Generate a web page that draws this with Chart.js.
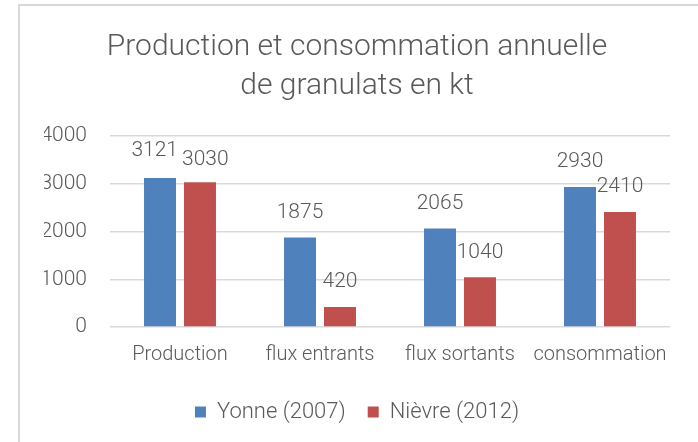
<!DOCTYPE html>
<html>
<head>
<meta charset="utf-8">
<script src="https://cdn.jsdelivr.net/npm/chart.js@4.4.0/dist/chart.umd.min.js"></script>
<style>
  html, body { margin: 0; padding: 0; background: #fff; overflow: hidden; }
  #frame { position: absolute; left: 18px; top: 4px; width: 1000px; height: 1000px;
           border-top: 2px solid #d9d9d9; border-left: 2px solid #d9d9d9; }
  #wrap { position: absolute; left: 0; top: 0; width: 698px; height: 442px; }
</style>
</head>
<body>
<div id="frame"></div>
<div id="wrap"><canvas id="myChart"></canvas></div>
<script>
(function () {
    var categories = ['Production', 'flux entrants', 'flux sortants', 'consommation'];
    var yonne = [3121, 1875, 2065, 2930];
    var nievre = [3030, 420, 1040, 2410];
    var yTicks = [0, 1000, 2000, 3000, 4000];

    var textColor = '#595959';
    var fontFamily = 'Roboto';

    // values written above each bar, pushed apart when two of a group collide
    var barLabels = {
        id: 'barLabels',
        afterDatasetsDraw: function (chart) {
            var ctx = chart.ctx;
            ctx.save();
            ctx.font = '300 21px ' + fontFamily;
            ctx.fillStyle = textColor;
            ctx.textAlign = 'center';
            ctx.textBaseline = 'middle';
            var metaA = chart.getDatasetMeta(0).data;
            var metaB = chart.getDatasetMeta(1).data;
            var dataA = chart.data.datasets[0].data;
            var dataB = chart.data.datasets[1].data;
            for (var j = 0; j < metaA.length; j++) {
                var a = metaA[j], b = metaB[j];
                var ta = String(dataA[j]), tb = String(dataB[j]);
                var xa = a.x, xb = b.x, ya = a.y - 25, yb = b.y - 25;
                var wa = ctx.measureText(ta).width, wb = ctx.measureText(tb).width;
                var overlap = (xa + wa / 2) - (xb - wb / 2) + 4;
                if (overlap > 0 && Math.abs(ya - yb) < 22) {
                    xa -= overlap / 2;
                    xb += overlap / 2;
                    if (ya <= yb) { ya -= 2; yb += 2; } else { ya += 2; yb -= 2; }
                }
                ctx.fillText(ta, xa, ya);
                ctx.fillText(tb, xb, yb);
            }
            ctx.restore();
        }
    };

    var ctx = document.getElementById('myChart');
    new Chart(ctx, {
        type: 'bar',
        plugins: [barLabels],
        data: {
            labels: categories,
            datasets: [{
                label: 'Yonne (2007)',
                data: yonne,
                backgroundColor: '#4f81bd',
                categoryPercentage: 0.571,
                barPercentage: 0.8
            }, {
                label: 'Nièvre (2012)',
                data: nievre,
                backgroundColor: '#c0504d',
                categoryPercentage: 0.571,
                barPercentage: 0.8
            }]
        },
        options: {
            responsive: true,
            maintainAspectRatio: false,
            animation: false,
            layout: { padding: { left: 44, right: 28, top: 0, bottom: 9 } },
            plugins: {
                title: {
                    display: true,
                    text: ['Production et consommation annuelle', 'de granulats en kt'],
                    color: textColor,
                    font: { family: fontFamily, size: 30, weight: '300', lineHeight: 1.3 },
                    padding: { top: 28, bottom: 30 }
                },
                legend: {
                    position: 'bottom',
                    labels: {
                        color: textColor,
                        font: { family: fontFamily, size: 22, weight: '300' },
                        boxWidth: 11,
                        boxHeight: 11,
                        padding: 22
                    }
                },
                tooltip: { enabled: false }
            },
            scales: {
                x: {
                    grid: { display: false },
                    border: { display: false },
                    afterFit: function (scale) { scale.height += 4; },
                    ticks: {
                        color: textColor,
                        font: { family: fontFamily, size: 20, weight: '300' },
                        maxRotation: 0,
                        padding: 8
                    }
                },
                y: {
                    min: 0,
                    max: 4000,
                    afterFit: function (scale) { scale.width = 66; },
                    afterBuildTicks: function (scale) {
                        scale.ticks = yTicks.map(function (v) { return { value: v }; });
                    },
                    grid: { color: '#d9d9d9', lineWidth: 1.5, drawTicks: false },
                    border: { display: false },
                    ticks: {
                        color: textColor,
                        font: { family: fontFamily, size: 21, weight: '300' },
                        padding: 23,
                        callback: function (v) { return String(v); }
                    }
                }
            }
        }
    });
})()
</script>
</body>
</html>
